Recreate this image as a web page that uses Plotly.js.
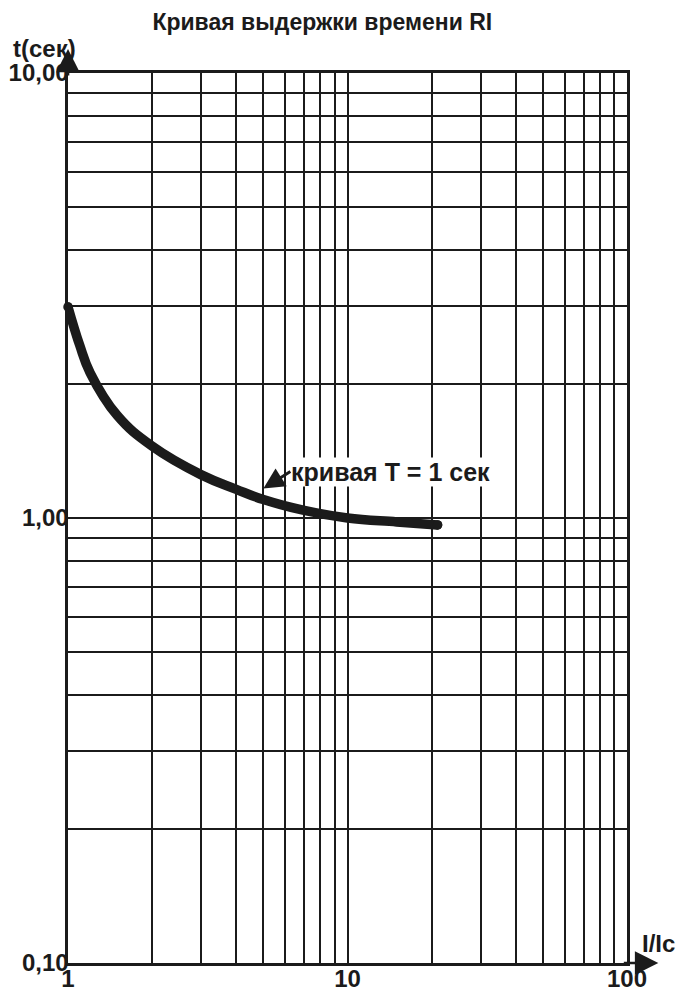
<!DOCTYPE html>
<html>
<head>
<meta charset="utf-8">
<script src="https://cdn.plot.ly/plotly-3.0.1.min.js"></script>
<style>html,body{margin:0;padding:0;background:#fff;}#chart{width:680px;height:991px;}</style>
</head>
<body>
<div id="chart"></div>
<script>
// ---- data ----
const currentRatio = [1, 1.1, 1.2, 1.5, 2, 3, 4, 5, 7, 10, 15, 21];      // I/Ic
const tripTime     = [2.98, 2.45, 2.12, 1.70, 1.45, 1.25, 1.16, 1.10, 1.04, 1.0, 0.98, 0.965]; // t, s
const curveLabel   = 'кривая T = 1 сек';
const xDecades     = [1, 10, 100];
const xTickLabels  = ['1', '10', '100'];
const yDecades     = [0.1, 1, 10];
const yTickLabels  = ['0,10', '1,00', '10,00'];
const chartTitle   = 'Кривая выдержки времени RI';
const xAxisName    = 'I/Ic';
const yAxisName    = 't(сек)';

// gridline ticks at 1..9 of each decade, labels only on decades
function logTicks(decades, labels) {
  const vals = [], text = [];
  for (let d = 0; d < decades.length; d++) {
    if (d === decades.length - 1) { vals.push(decades[d]); text.push(labels[d]); break; }
    for (let m = 1; m <= 9; m++) {
      vals.push(+(decades[d] * m).toPrecision(6));
      text.push(m === 1 ? labels[d] : '');
    }
  }
  return {vals, text};
}
const xt = logTicks(xDecades, xTickLabels);
const yt = logTicks(yDecades, yTickLabels);

const FONT = 'Liberation Sans, Arial, Helvetica, sans-serif';
const INK = '#1b1b1b';

const traces = [
  {
    x: currentRatio, y: tripTime, type: 'scatter', mode: 'lines',
    line: {color: INK, width: 9.5, shape: 'spline', smoothing: 1.2},
    hoverinfo: 'skip', showlegend: false
  },
  {
    x: [currentRatio[0], currentRatio[currentRatio.length - 1]],
    y: [tripTime[0], tripTime[tripTime.length - 1]],
    type: 'scatter', mode: 'markers', cliponaxis: false,
    marker: {color: INK, size: 9.5, line: {width: 0}},
    hoverinfo: 'skip', showlegend: false
  }
];

const axisCommon = {
  type: 'log', showgrid: true, gridcolor: INK, gridwidth: 2,
  showline: true, linecolor: INK, linewidth: 2.6, mirror: true,
  zeroline: false, ticks: '', tickmode: 'array',
  tickfont: {family: FONT, size: 24, color: INK, weight: 'bold'}
};

const layout = {
  width: 680, height: 991,
  margin: {l: 68, r: 53, t: 73, b: 28},
  paper_bgcolor: '#fff', plot_bgcolor: '#fff',
  title: {
    text: chartTitle, xref: 'container', yref: 'container',
    x: 0.474, y: 0.978, xanchor: 'center', yanchor: 'middle',
    font: {family: FONT, size: 23, color: INK, weight: 'bold'}
  },
  xaxis: Object.assign({}, axisCommon, {
    range: [Math.log10(xDecades[0]), Math.log10(xDecades[xDecades.length - 1])],
    tickvals: xt.vals, ticktext: xt.text, ticklabelstandoff: -7
  }),
  yaxis: Object.assign({}, axisCommon, {
    range: [Math.log10(yDecades[0]), Math.log10(yDecades[yDecades.length - 1])],
    tickvals: yt.vals, ticktext: yt.text, ticklabelstandoff: -8
  }),
  annotations: [
    { // curve label with arrow
      x: Math.log10(currentRatio[7]), y: Math.log10(tripTime[7]), xref: 'x', yref: 'y',
      yshift: 11, text: curveLabel, showarrow: true, arrowhead: 2, arrowsize: 1.4,
      arrowwidth: 3, arrowcolor: INK, standoff: 0, ax: 27, ay: -17,
      xanchor: 'left', yanchor: 'middle', bgcolor: '#ffffff', borderpad: 0,
      font: {family: FONT, size: 25, color: INK, weight: 'bold'}
    },
    { // y axis arrow
      x: 0, y: 1.027, xref: 'paper', yref: 'paper', text: '', showarrow: true,
      arrowhead: 2, arrowsize: 1.8, arrowwidth: 2.6, arrowcolor: INK, standoff: 0, ax: 0, ay: 28
    },
    { // x axis arrow
      x: 1.056, y: 0, xref: 'paper', yref: 'paper', text: '', showarrow: true,
      arrowhead: 2, arrowsize: 1.8, arrowwidth: 2.6, arrowcolor: INK, standoff: 0, ax: -36, ay: 0
    },
    { // y axis name
      x: -0.042, y: 1.028, xref: 'paper', yref: 'paper', text: yAxisName, showarrow: false,
      xanchor: 'center', yanchor: 'middle',
      font: {family: FONT, size: 24, color: INK, weight: 'bold'}
    },
    { // x axis name
      x: 1.057, y: 0.022, xref: 'paper', yref: 'paper', text: xAxisName, showarrow: false,
      xanchor: 'center', yanchor: 'middle',
      font: {family: FONT, size: 24, color: INK, weight: 'bold'}
    }
  ]
};

Plotly.newPlot('chart', traces, layout, {staticPlot: true, displayModeBar: false}).then(function(){
  document.querySelectorAll('.scatterlayer .js-line').forEach(function(p){ p.style.strokeLinecap = 'round'; p.style.strokeLinejoin = 'round'; });
});
</script>
</body>
</html>
